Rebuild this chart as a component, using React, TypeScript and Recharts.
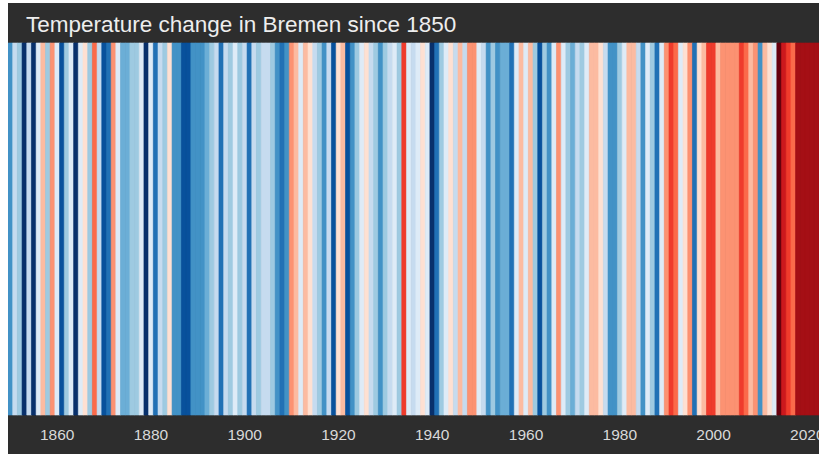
import React from 'react';
import { BarChart, Bar, XAxis, YAxis, Cell } from 'recharts';

const FIRST_YEAR = 1850;

// annual temperature anomaly (°C), one value per year from 1850
const anomalies = [
  -0.9, -0.3, -0.5, -1.5, -0.3, -1.5, -0.1, 0.3, -0.5, 0.5,
  -0.1, -1.3, -0.5, -0.1, -1.5, -0.1, 0.1, -0.5, 0.7, -0.3,
  -1.3, -1.1, 0.5, -0.1, -0.7, -0.7, -0.5, -0.5, -0.1, -1.5,
  -0.1, -1.1, -0.3, -0.5, 0.1, -0.9, -0.9, -1.3, -1.3, -0.9,
  -0.9, -0.9, -0.7, -0.5, -0.3, -1.1, -0.3, -0.5, -0.1, -0.5,
  -0.3, -1.1, -0.3, -0.5, -0.3, -0.3, -0.5, -0.9, -1.1, -0.9,
  0.5, 0.3, -0.1, 0.3, 0.1, -0.3, -0.5, -0.9, -0.3, -1.3,
  0.1, 0.3, -1.3, -0.9, -0.5, -0.1, 0.1, -0.3, -0.5, -0.9,
  -0.5, -0.3, -0.1, -0.5, 0.9, -0.1, -0.3, -0.1, 0.1, -0.1,
  -1.5, -1.1, -0.5, -0.1, 0.1, -0.3, 0.3, -0.3, 0.5, 0.5,
  -0.1, -0.3, -0.9, -0.5, -0.9, -0.7, -0.7, -1.1, -0.1, 0.3,
  -0.1, 0.3, -0.5, -1.3, -0.5, -0.9, -0.1, 0.5, -0.1, -0.5,
  -0.7, -0.3, -0.5, -0.1, 0.3, 0.3, 0.1, -0.3, -0.9, -0.9,
  -0.5, -0.1, 0.3, 0.3, -0.3, -0.9, -0.1, -0.5, -1.1, -0.1,
  0.5, 0.9, 0.7, -0.1, 0.1, 0.5, -1.1, 0.1, 0.3, 0.9,
  0.9, 0.3, 0.5, 0.5, 0.5, 0.5, 0.9, 0.7, 0.3, 0.5,
  -0.9, 0.3, 0.1, -0.1, 1.5, 1.1, 0.9, 0.7, 1.3, 1.3,
  1.3, 1.3, 1.3,
];

const tickYears = [1860, 1880, 1900, 1920, 1940, 1960, 1980, 2000, 2020];

// 8 blues + 8 reds, cold to warm
const stripeColors = [
  '#08306b', '#08519c', '#2171b5', '#4292c6', '#6baed6', '#9ecae1', '#c6dbef', '#deebf7',
  '#fee0d2', '#fcbba1', '#fc9272', '#fb6a4a', '#ef3b2c', '#cb181d', '#a50f15', '#67000d',
];
const SCALE_MIN = -1.6;
const SCALE_STEP = 0.2;

const data = anomalies.map((a, i) => ({ year: FIRST_YEAR + i, anomaly: a }));

function colorFor(v: number) {
  const idx = Math.floor((v - SCALE_MIN) / SCALE_STEP);
  return stripeColors[Math.max(0, Math.min(stripeColors.length - 1, idx))];
}

const W = 811;
const H = 451;
const TOP = 40;
const BOTTOM = 39;

function YearTick(props: any) {
  const { x, payload } = props;
  if (!tickYears.includes(payload.value)) return null;
  return (
    <text x={x} y={H - 14} textAnchor="middle" fill="#d9d9d9" fontSize={15.5} fontFamily="Liberation Sans, Arial, sans-serif">
      {payload.value}
    </text>
  );
}

export default function App() {
  return (
    <div style={{ position: 'fixed', left: 8, top: 3, width: W, height: H, background: '#2d2d2d', overflow: 'hidden' }}>
      <BarChart width={W} height={H} data={data} margin={{ top: TOP, right: 0, bottom: 0, left: 0 }} barCategoryGap={0} barGap={0}>
        <XAxis dataKey="year" interval={0} axisLine={false} tickLine={false} height={BOTTOM} tick={<YearTick />} />
        <YAxis hide domain={[0, 1]} />
        <Bar dataKey={() => 1} isAnimationActive={false}>
          {data.map((d) => (
            <Cell key={d.year} fill={colorFor(d.anomaly)} stroke={colorFor(d.anomaly)} strokeWidth={0.6} />
          ))}
        </Bar>
      </BarChart>
      <svg width={W} height={TOP} style={{ position: 'absolute', left: 0, top: 0 }}>
        <text x={18} y={28.7} fill="#eeeeee" fontSize={22.5} fontFamily="Liberation Sans, Arial, sans-serif">
          Temperature change in Bremen since 1850
        </text>
      </svg>
    </div>
  );
}
